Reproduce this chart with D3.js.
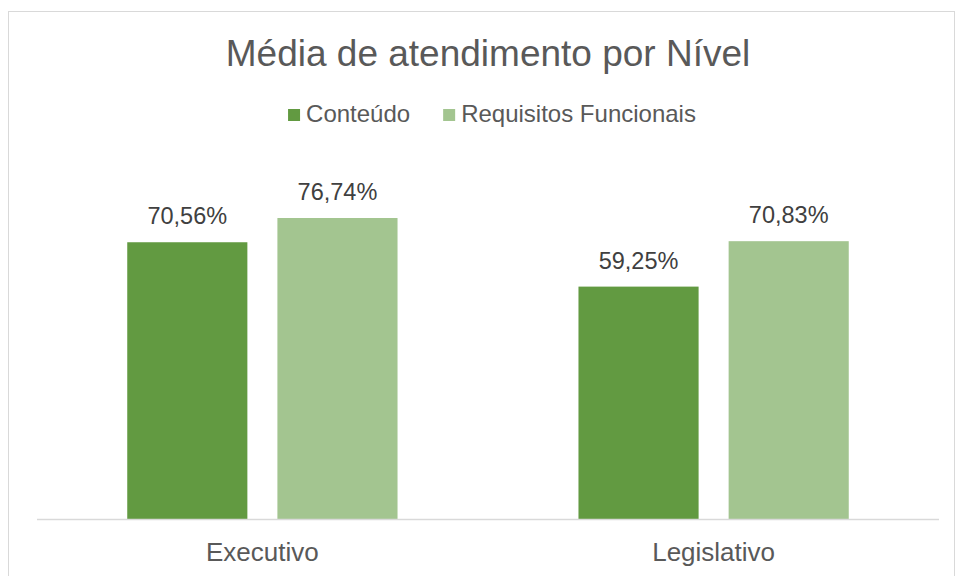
<!DOCTYPE html>
<html>
<head>
<meta charset="utf-8">
<script src="https://cdn.jsdelivr.net/npm/d3@7"></script>
<style>
  body { margin: 0; background: #fff; }
  text { font-family: "Liberation Sans", Arial, sans-serif; }
</style>
</head>
<body>
<div id="chart"></div>
<script>
// data
const categories = ["Executivo", "Legislativo"];
const series = ["Conteúdo", "Requisitos Funcionais"];
const conteudo = [70.56, 59.25];
const requisitos = [76.74, 70.83];
const seriesValues = [conteudo, requisitos];

const width = 955;
const height = 576;
const colors = ["#629A41", "#A3C590"];

const svg = d3.select("#chart")
  .append("svg")
  .attr("width", width)
  .attr("height", height);

// chart border
svg.append("rect")
  .attr("x", 8.5)
  .attr("y", 11.5)
  .attr("width", 946)
  .attr("height", 580)
  .attr("fill", "#fff")
  .attr("stroke", "#d9d9d9");

// title
svg.append("text")
  .attr("x", 488)
  .attr("y", 66)
  .attr("text-anchor", "middle")
  .attr("font-size", 37)
  .attr("fill", "#595959")
  .text("Média de atendimento por Nível");

//////////// scales ////////////
const plot = {left: 37, right: 939, top: 166, bottom: 519};

const x0 = d3.scaleBand()
  .domain(categories)
  .range([plot.left, plot.right])
  .paddingInner(0.401)
  .paddingOuter(0.2);

const x1 = d3.scaleBand()
  .domain(series)
  .range([0, x0.bandwidth()])
  .paddingInner(0.2);

const y = d3.scaleLinear()
  .domain([0, 90])
  .range([plot.bottom, plot.top]);

const rows = [];
categories.forEach((c, i) => {
  series.forEach((s, j) => {
    rows.push({cat: c, series: s, idx: j, value: seriesValues[j][i]});
  });
});

const fmt = v => d3.format(".2f")(v).replace(".", ",") + "%";

//////////// bars ////////////
const groups = svg.selectAll(".bar")
  .data(rows)
  .join("g")
    .attr("class", "bar")
    .attr("transform", d => `translate(${x0(d.cat) + x1(d.series)},0)`);

groups.append("rect")
  .attr("x", 0)
  .attr("y", d => y(d.value))
  .attr("width", x1.bandwidth())
  .attr("height", d => y(0) - y(d.value))
  .attr("fill", d => colors[d.idx]);

groups.append("text")
  .attr("x", x1.bandwidth() / 2)
  .attr("y", d => y(d.value) - 18)
  .attr("text-anchor", "middle")
  .attr("font-size", 23.5)
  .attr("fill", "#404040")
  .text(d => fmt(d.value));

// baseline axis
svg.append("line")
  .attr("x1", plot.left)
  .attr("x2", plot.right)
  .attr("y1", plot.bottom + 0.5)
  .attr("y2", plot.bottom + 0.5)
  .attr("stroke", "#d9d9d9")
  .attr("stroke-width", 1.5);

// category labels
svg.selectAll(".cat")
  .data(categories)
  .join("text")
    .attr("class", "cat")
    .attr("x", d => x0(d) + x0.bandwidth() / 2)
    .attr("y", 561)
    .attr("text-anchor", "middle")
    .attr("font-size", 26)
    .attr("fill", "#595959")
    .text(d => d);

//////////// legend ////////////
const legend = svg.append("g");
let lx = 0;
series.forEach((s, i) => {
  const g = legend.append("g").attr("transform", `translate(${lx},0)`);
  g.append("rect")
    .attr("x", 0).attr("y", 109)
    .attr("width", 12).attr("height", 12)
    .attr("fill", colors[i]);
  const t = g.append("text")
    .attr("x", 18).attr("y", 122)
    .attr("font-size", 24)
    .attr("fill", "#595959")
    .text(s);
  lx += 18 + t.node().getComputedTextLength() + 33;
});
const legendW = lx - 33;
legend.attr("transform", `translate(${(289 + 695) / 2 - legendW / 2},0)`);
</script>
</body>
</html>
